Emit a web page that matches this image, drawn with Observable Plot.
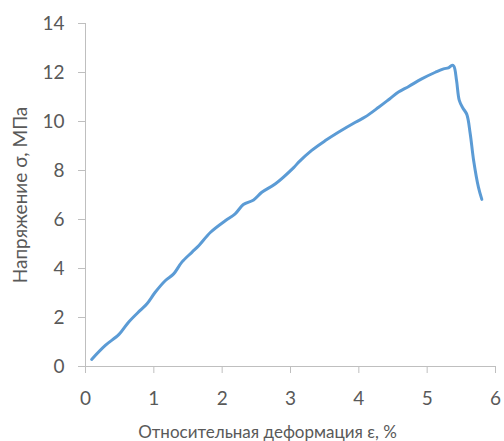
<!DOCTYPE html>
<html>
<head>
<meta charset="utf-8">
<script src="https://cdn.jsdelivr.net/npm/d3@7"></script>
<script src="https://cdn.jsdelivr.net/npm/@observablehq/plot@0.6"></script>
<style>
  html, body { margin: 0; padding: 0; background: #fff; }
</style>
</head>
<body>
<div id="chart"></div>
<script>
const strain = [0.09, 0.29, 0.49, 0.63, 0.80, 0.90, 1.02, 1.17, 1.29, 1.41, 1.56, 1.66, 1.83, 2.05, 2.19, 2.31, 2.46, 2.58, 2.78, 3.05, 3.12, 3.31, 3.51, 3.70, 3.95, 4.09, 4.29, 4.45, 4.58, 4.73, 4.92, 5.12, 5.24, 5.31, 5.36, 5.39, 5.43, 5.47, 5.52, 5.58, 5.63, 5.68, 5.75, 5.80];
const stress = [0.29, 0.86, 1.31, 1.81, 2.29, 2.56, 3.03, 3.51, 3.78, 4.26, 4.67, 4.94, 5.48, 5.96, 6.23, 6.61, 6.80, 7.11, 7.46, 8.13, 8.34, 8.82, 9.22, 9.56, 9.97, 10.18, 10.58, 10.92, 11.20, 11.43, 11.74, 12.01, 12.15, 12.19, 12.29, 12.26, 11.67, 10.86, 10.56, 10.29, 9.50, 8.41, 7.32, 6.82];
const xTicks = [0, 1, 2, 3, 4, 5, 6];
const yTicks = [0, 2, 4, 6, 8, 10, 12, 14];
const xTitle = "Относительная деформация ε, %";
const yTitle = "Напряжение σ, МПа";

const data = strain.map((x, i) => ({x, y: stress[i]}));
const axisGray = "#bfbfbf";
const textGray = "#595959";

const chart = Plot.plot({
  width: 504,
  height: 441,
  marginLeft: 85,
  marginRight: 9,
  marginTop: 23,
  marginBottom: 75,
  style: {fontFamily: "Lato, 'Noto Sans', sans-serif", background: "#fff"},
  x: {domain: [0, 6]},
  y: {domain: [0, 14]},
  marks: [
    Plot.ruleY([0], {stroke: axisGray, strokeWidth: 1}),
    Plot.ruleX([0], {stroke: axisGray, strokeWidth: 1}),
    Plot.axisX({ticks: xTicks, tickSize: 7, tickPadding: 18, stroke: axisGray, fill: textGray, fontSize: 19, label: null, tickFormat: d => d}),
    Plot.axisY({ticks: yTicks, tickSize: 7, tickPadding: 14, stroke: axisGray, fill: textGray, fontSize: 19, label: null, tickFormat: d => d}),
    Plot.line(data, {x: "x", y: "y", stroke: "#5b9bd5", strokeWidth: 3, curve: "catmull-rom"}),
    Plot.text([xTitle], {text: d => d, frameAnchor: "bottom", textAnchor: "middle", dx: -23, dy: 66, lineAnchor: "middle", fontSize: 17, fill: textGray}),
    Plot.text([yTitle], {text: d => d, frameAnchor: "left", textAnchor: "middle", dx: -65, rotate: -90, lineAnchor: "middle", fontSize: 19, fill: textGray})
  ]
});
document.getElementById("chart").appendChild(chart);
</script>
</body>
</html>
